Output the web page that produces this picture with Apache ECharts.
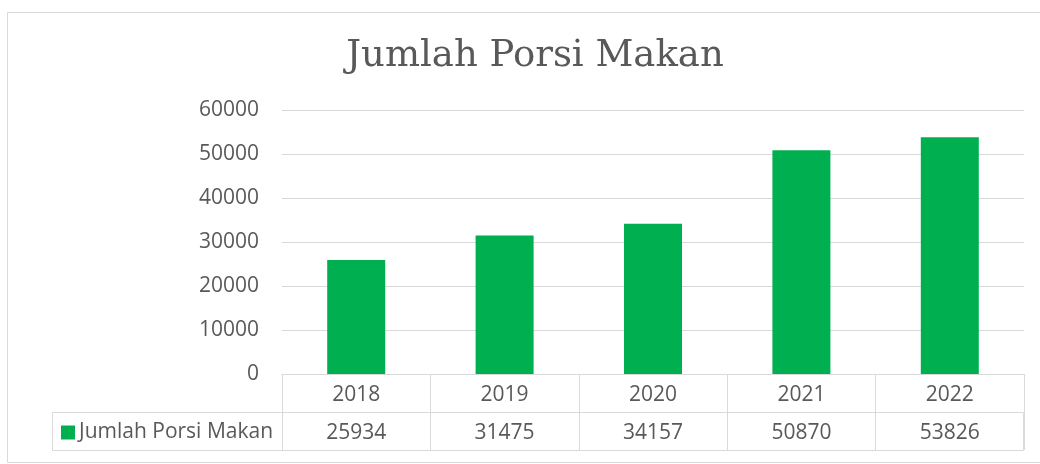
<!DOCTYPE html>
<html>
<head>
<meta charset="utf-8">
<style>
  html, body { margin: 0; padding: 0; background: #fff; }
  #chart { width: 1040px; height: 464px; }
</style>
<script src="https://cdn.jsdelivr.net/npm/echarts@6/dist/echarts.min.js"></script>
</head>
<body>
<div id="chart"></div>
<script>
  var years = ['2018', '2019', '2020', '2021', '2022'];
  var porsi = [25934, 31475, 34157, 50870, 53826];
  var yTicks = [0, 10000, 20000, 30000, 40000, 50000, 60000];

  var seriesName = 'Jumlah Porsi Makan';
  var textColor = '#595959';
  var lineColor = '#D9D9D9';
  var font = 'Open Sans';

  var myChart = echarts.init(document.getElementById('chart'));
  myChart.setOption({
    animation: false,
    title: {
      text: 'Jumlah Porsi Makan',
      left: 530,
      top: 33,
      textAlign: 'center',
      textStyle: {
        fontFamily: 'DejaVu Serif',
        fontSize: 37,
        fontWeight: 'normal',
        color: textColor
      }
    },
    legend: {
      data: [seriesName],
      left: 61,
      top: 422,
      padding: 0,
      icon: 'rect',
      itemWidth: 14,
      itemHeight: 14,
      textStyle: { fontFamily: font, fontSize: 21, color: textColor, padding: [0, 0, 0, -1] }
    },
    grid: {
      left: 282,
      right: 16,
      top: 110,
      bottom: 90
    },
    xAxis: {
      type: 'category',
      data: years,
      axisLine: { show: true, lineStyle: { color: lineColor, width: 1 } },
      axisTick: { show: true, length: 76, interval: 0, lineStyle: { color: lineColor, width: 1 } },
      axisLabel: {
        margin: 2,
        interval: 0,
        fontFamily: font,
        fontSize: 21,
        lineHeight: 38,
        color: textColor,
        // second line is the data-table row
        formatter: function (value, idx) {
          return value + '\n' + porsi[idx];
        }
      }
    },
    yAxis: {
      type: 'value',
      min: yTicks[0],
      max: yTicks[yTicks.length - 1],
      interval: yTicks[1] - yTicks[0],
      axisLine: { show: false },
      axisTick: { show: false },
      axisLabel: {
        margin: 23,
        fontFamily: font,
        fontSize: 21,
        color: textColor,
        formatter: function (v) { return String(v); }
      },
      splitLine: { lineStyle: { color: lineColor, width: 1 } }
    },
    series: [
      {
        name: seriesName,
        type: 'bar',
        barWidth: 58,
        itemStyle: { color: '#00B050' },
        data: porsi
      }
    ],
    graphic: [
      {
        // data table: legend row frame
        type: 'rect',
        silent: true,
        shape: { x: 52.5, y: 412.5, width: 971, height: 38 },
        style: { fill: 'none', stroke: lineColor, lineWidth: 1 }
      },
      {
        // chart area border
        type: 'rect',
        silent: true,
        shape: { x: 7.5, y: 12.5, width: 1040, height: 450 },
        style: { fill: 'none', stroke: lineColor, lineWidth: 1 }
      }
    ]
  });
</script>
</body>
</html>
